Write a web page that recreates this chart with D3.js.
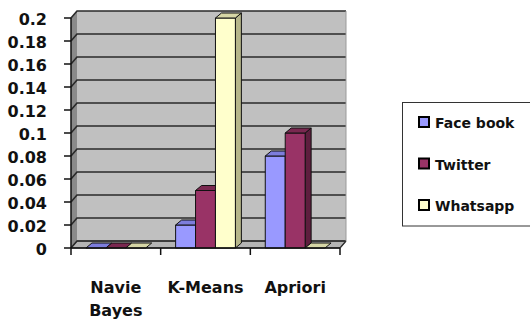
<!DOCTYPE html>
<html>
<head>
<meta charset="utf-8">
<script src="https://cdn.jsdelivr.net/npm/d3@7"></script>
<style>
  html, body { margin: 0; padding: 0; background: #fff; }
  svg { display: block; }
  text { font-family: "DejaVu Sans", sans-serif; font-weight: bold; fill: #111; }
</style>
</head>
<body>
<svg id="chart" width="530" height="320"></svg>
<script>
const categories = ["Navie Bayes", "K-Means", "Apriori"];
const seriesNames = ["Face book", "Twitter", "Whatsapp"];
const faceBook = [0, 0.02, 0.08];
const twitter = [0, 0.05, 0.1];
const whatsapp = [0, 0.2, 0];
const yTicks = [0, 0.02, 0.04, 0.06, 0.08, 0.1, 0.12, 0.14, 0.16, 0.18, 0.2];
const yTickLabels = ["0", "0.02", "0.04", "0.06", "0.08", "0.1", "0.12", "0.14", "0.16", "0.18", "0.2"];

const seriesValues = [faceBook, twitter, whatsapp];
const colors = [
  { front: "#9999ff", top: "#7d7ddc", side: "#6a6ab4" },
  { front: "#993366", top: "#7a2850", side: "#5e1e3e" },
  { front: "#ffffcc", top: "#d6d6a6", side: "#b6b68a" }
];

const svg = d3.select("#chart");
const X0 = 71, X1 = 340, Y0 = 248, YT = 18;
const DX = 6, DY = -7;      // wall depth
const BDX = 6, BDY = -5;    // bar depth

const x = d3.scaleBand().domain(categories).range([X0, X1]).paddingInner(0).paddingOuter(0);
const xs = d3.scaleBand().domain(seriesNames).range([0, x.bandwidth()]).paddingInner(0).paddingOuter(0.75);
const y = d3.scaleLinear().domain([0, 0.2]).range([Y0, YT]);

const pts = a => a.map(p => p.join(",")).join(" ");

// back wall
svg.append("polygon")
  .attr("points", pts([[X0 + DX, y(0.2) + DY], [X1 + DX, y(0.2) + DY], [X1 + DX, y(0) + DY], [X0 + DX, y(0) + DY]]))
  .attr("fill", "#c0c0c0");
// left side wall
svg.append("polygon")
  .attr("points", pts([[X0, y(0.2)], [X0 + DX, y(0.2) + DY], [X0 + DX, y(0) + DY], [X0, y(0)]]))
  .attr("fill", "#8a8a8a");
// floor
svg.append("polygon")
  .attr("points", pts([[X0, Y0], [X1, Y0], [X1 + DX, Y0 + DY], [X0 + DX, Y0 + DY]]))
  .attr("fill", "#b4b4b4").attr("stroke", "#333").attr("stroke-width", 1);

// gridlines
svg.append("g").selectAll("polyline").data(yTicks).join("polyline")
  .attr("points", d => pts([[X0, y(d)], [X0 + DX, y(d) + DY], [X1 + DX, y(d) + DY]]))
  .attr("fill", "none").attr("stroke", "#2a2a2a").attr("stroke-width", 1.6);
// right edge of wall
svg.append("line")
  .attr("x1", X1 + DX).attr("x2", X1 + DX).attr("y1", y(0.2) + DY).attr("y2", y(0) + DY)
  .attr("stroke", "#9a9a9a").attr("stroke-width", 1);
svg.append("line")
  .attr("x1", X1).attr("x2", X1 + DX).attr("y1", Y0).attr("y2", Y0 + DY)
  .attr("stroke", "#333").attr("stroke-width", 1.2);

// bars
const bars = svg.append("g");
categories.forEach((c, ci) => {
  seriesNames.forEach((s, si) => {
    const v = seriesValues[si][ci];
    const bx = x(c) + xs(s), bw = xs.bandwidth();
    const yt = y(v), yb = y(0);
    const col = colors[si];
    const g = bars.append("g").attr("stroke", "#111").attr("stroke-width", 1).attr("stroke-linejoin", "round");
    if (yb - yt > 0) {
      g.append("polygon")
        .attr("points", pts([[bx + bw, yt], [bx + bw + BDX, yt + BDY], [bx + bw + BDX, yb + BDY], [bx + bw, yb]]))
        .attr("fill", col.side);
      g.append("rect").attr("x", bx).attr("y", yt).attr("width", bw).attr("height", yb - yt)
        .attr("fill", col.front);
    }
    g.append("polygon")
      .attr("points", pts([[bx, yt], [bx + bw, yt], [bx + bw + BDX, yt + BDY], [bx + BDX, yt + BDY]]))
      .attr("fill", col.top);
  });
});

// y axis
const yAxis = svg.append("g");
yAxis.append("line").attr("x1", X0).attr("x2", X0).attr("y1", y(0.2)).attr("y2", Y0)
  .attr("stroke", "#111").attr("stroke-width", 1.5);
yAxis.selectAll("line.t").data(yTicks).join("line").attr("class", "t")
  .attr("x1", X0 - 7).attr("x2", X0).attr("y1", d => y(d)).attr("y2", d => y(d))
  .attr("stroke", "#111").attr("stroke-width", 1.5);
yAxis.selectAll("text").data(yTicks).join("text")
  .attr("x", 47).attr("y", d => y(d) + 1.5)
  .attr("text-anchor", "end").attr("dominant-baseline", "central")
  .style("font-size", "16px")
  .text((d, i) => yTickLabels[i]);

// x axis
const xAxis = svg.append("g");
xAxis.append("line").attr("x1", X0).attr("x2", X1).attr("y1", Y0).attr("y2", Y0)
  .attr("stroke", "#111").attr("stroke-width", 1.5);
const bounds = categories.map(c => x(c)).concat([X1]);
xAxis.selectAll("line.t").data(bounds).join("line").attr("class", "t")
  .attr("x1", d => d).attr("x2", d => d).attr("y1", Y0).attr("y2", Y0 + 7)
  .attr("stroke", "#111").attr("stroke-width", 1.5);
const labels = xAxis.selectAll("text").data(categories).join("text")
  .attr("x", d => x(d) + x.bandwidth() / 2).attr("y", 293)
  .attr("text-anchor", "middle").style("font-size", "16px");
labels.each(function (d) {
  const parts = d.split(" ");
  const t = d3.select(this);
  parts.forEach((p, i) => {
    t.append("tspan").attr("x", x(d) + x.bandwidth() / 2).attr("dy", i === 0 ? 0 : 23).text(p);
  });
});

// legend
const lg = svg.append("g");
lg.append("rect").attr("x", 402.5).attr("y", 102.5).attr("width", 140).attr("height", 123.5)
  .attr("fill", "#fff").attr("stroke", "#333").attr("stroke-width", 1);
const ly = d3.scalePoint().domain(seriesNames).range([122, 205]);
seriesNames.forEach((s, i) => {
  lg.append("rect").attr("x", 419).attr("y", ly(s) - 5).attr("width", 10).attr("height", 10)
    .attr("fill", colors[i].front).attr("stroke", "#000").attr("stroke-width", 2);
  lg.append("text").attr("x", 435).attr("y", ly(s) + 1).attr("dominant-baseline", "central")
    .style("font-size", "14px").text(s);
});
</script>
</body>
</html>
